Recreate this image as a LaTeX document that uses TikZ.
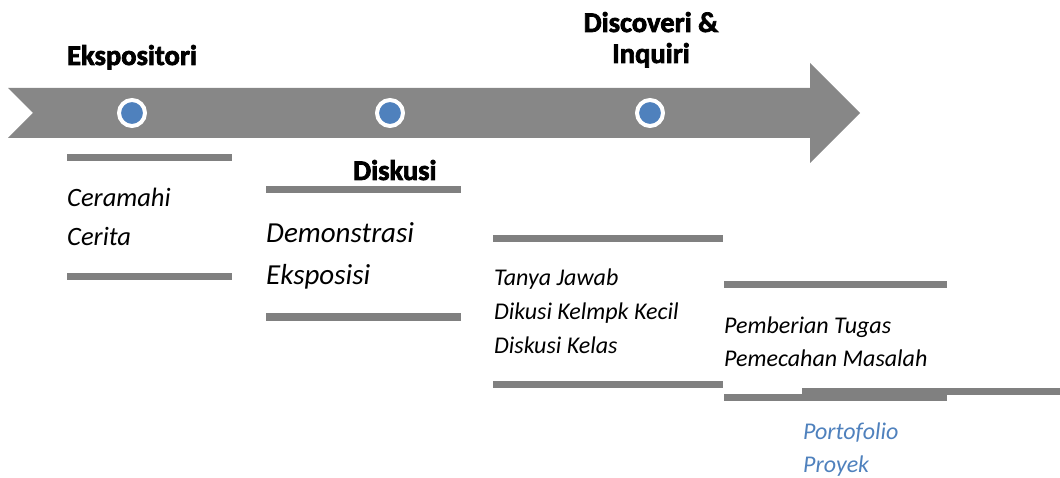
\documentclass[tikz,border=0pt]{standalone}
\usepackage{fontspec}
\setmainfont{Carlito}
\newfontfamily\headfont{Carlito}[BoldFeatures={FakeBold=2.5}]
\usetikzlibrary{positioning}

\definecolor{bargray}{HTML}{808080}
\definecolor{arrowgray}{HTML}{878787}
\definecolor{dotblue}{HTML}{4F81BD}

\begin{document}
\begin{tikzpicture}[x=1pt, y=-1pt,
    bar/.style={draw=bargray, line width=7pt},
    head/.style={font=\headfont\bfseries\fontsize{28.5}{31}\selectfont, inner sep=0pt},
    item/.style={font=\itshape\fontsize{24}{34}\selectfont, align=left, inner sep=0pt, anchor=base west},
    dot/.style={circle, fill=dotblue, draw=white, line width=4pt, minimum size=26pt, inner sep=0pt}]
    \useasboundingbox (0,0) rectangle (1060,478);

    % timeline arrow
    \fill[arrowgray] (8,88) -- (810,88) -- (810,63) -- (860,113) -- (810,163)
        -- (810,138) -- (8,138) -- (33,113) -- cycle;
    \node[dot] (d1) at (132,113) {};
    \node[dot] (d2) at (390,113) {};
    \node[dot] (d3) at (650,113) {};

    % headings
    \node[head, anchor=base west] (ekspo) at (67,65) {Ekspositori};
    \node[head, anchor=base west] (diskusi) at (353,180) {Diskusi};
    \node[head, align=center, anchor=base] (discov) at (651,63) {Discoveri \&\\Inquiri};

    % bars
    \draw[bar] (67,158) -- (232,158);
    \draw[bar] (67,277) -- (232,277);
    \draw[bar] (266,190) -- (461,190);
    \draw[bar] (266,317) -- (461,317);
    \draw[bar] (493,238.5) -- (723,238.5);
    \draw[bar] (493,384.5) -- (723,384.5);
    \draw[bar] (724,284.5) -- (947,284.5);
    \draw[bar] (724,397.5) -- (947,397.5);
    \draw[bar] (802,391) -- (1060,391);

    % methods (anchored at the last line)
    \node[item, font=\itshape\fontsize{26.5}{39}\selectfont] (ceramah) at (67,246) {Ceramahi\\Cerita};
    \node[item, font=\itshape\fontsize{29}{42}\selectfont] (demo) at (266,285) {Demonstrasi\\Eksposisi};
    \node[item] (tanya) at (494,353) {Tanya Jawab\\Dikusi Kelmpk Kecil\\Diskusi Kelas};
    \node[item, font=\itshape\fontsize{24}{33}\selectfont] (tugas) at (724,366) {Pemberian Tugas\\Pemecahan Masalah};
    \node[item, font=\itshape\fontsize{24}{33}\selectfont, text=dotblue] (porto) at (803,472) {Portofolio\\Proyek};
\end{tikzpicture}
\end{document}
